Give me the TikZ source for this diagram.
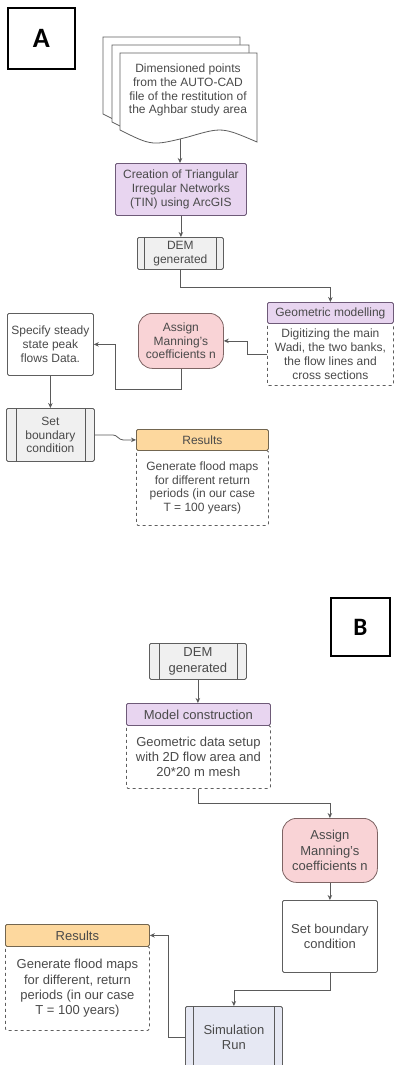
\documentclass[tikz,border=0pt]{standalone}
\usepackage{fontspec}
\setmainfont{Liberation Sans}
\newfontfamily\labfont{Carlito}
\usetikzlibrary{arrows.meta,calc}
\definecolor{bord}{HTML}{5E5E5E}
\definecolor{lin}{HTML}{5A5A5A}
\definecolor{txt}{HTML}{4A4A4A}
\definecolor{purp}{HTML}{E8D5F0}
\definecolor{purpb}{HTML}{6E5A78}
\definecolor{pink}{HTML}{F9D3D6}
\definecolor{pinkb}{HTML}{7E6464}
\definecolor{oran}{HTML}{FDD89E}
\definecolor{oranb}{HTML}{736650}
\definecolor{gfill}{HTML}{F0F0F0}
\definecolor{sfill}{HTML}{E6E8F3}
\tikzset{
  base/.style={draw=bord, line width=0.8pt, text=txt, align=center, inner sep=0pt, anchor=north west, rounded corners=1.5pt},
  fa/.style={font=\fontsize{12}{13.8}\selectfont},
  fb/.style={font=\fontsize{13}{15.3}\selectfont},
  dashbody/.style={base, dash pattern=on 3pt off 3pt},
  hdrp/.style={base, fill=purp, draw=purpb},
  hdro/.style={base, fill=oran, draw=oranb},
  terminal/.style={base, fill=pink, draw=pinkb, rounded corners=14pt},
  arr/.style={draw=lin, line width=0.8pt, -{Stealth[length=5pt,width=4.5pt]}},
  conn/.style={draw=lin, line width=0.8pt},
  labelbox/.style={draw=black, line width=1.8pt, anchor=north west, inner sep=0pt, text=black}
}
\begin{document}
\begin{tikzpicture}[x=1pt,y=-1pt]
\useasboundingbox (0,0) rectangle (396,1065);
\fill[white] (0,0) rectangle (396,1065);

% ---------- Panel A ----------
\node[labelbox, minimum width=67pt, minimum height=61pt, font=\labfont\bfseries\fontsize{28}{30}\selectfont] (labA) at (7,7) {A};

% stacked documents
\foreach \dx/\dy in {-17/-16, -8/-8, 0/0} {
  \filldraw[fill=white, draw=bord, line width=0.8pt, shift={(\dx,\dy)}]
    (120,53) -- (257,53) -- (257,142) .. controls (222,127) .. (188,137)
    .. controls (152,146) .. (120,130) -- cycle;
}
\node[fa, text=txt, align=center, inner sep=0pt] (docTxt) at (188,90)
  {Dimensioned points\\from the AUTO-CAD\\file of the restitution of\\the Aghbar study area};
\coordinate (docbot) at (180,139);

\node[hdrp, fa, minimum width=131pt, minimum height=52pt] (creation) at (115,163)
  {Creation of Triangular\\Irregular Networks\\(TIN) using ArcGIS};

\node[base, fa, fill=gfill, minimum width=86pt, minimum height=32pt] (demA) at (137,237)
  {DEM\\generated};
\draw[conn] ($(demA.north west)+(7,0)$) -- ($(demA.south west)+(7,0)$);
\draw[conn] ($(demA.north east)+(-7,0)$) -- ($(demA.south east)+(-7,0)$);

\node[dashbody, fa, minimum width=126pt, minimum height=62pt] (geomB) at (267,323)
  {Digitizing the main\\Wadi, the two banks,\\the flow lines and\\cross sections};
\node[hdrp, fa, minimum width=126pt, minimum height=21pt] (geomH) at (267,302)
  {Geometric modelling};

\node[terminal, fa, minimum width=85pt, minimum height=55pt] (assignA) at (138,313)
  {Assign\\Manning's\\coefficients n};

\node[base, fa, fill=white, minimum width=86pt, minimum height=62pt] (specify) at (7,313)
  {Specify steady\\state peak\\flows Data.};

\node[base, fa, fill=gfill, minimum width=88pt, minimum height=53pt] (setA) at (6,408)
  {Set\\boundary\\condition};
\draw[conn] ($(setA.north west)+(10,0)$) -- ($(setA.south west)+(10,0)$);
\draw[conn] ($(setA.north east)+(-9,0)$) -- ($(setA.south east)+(-9,0)$);

\node[dashbody, fa, minimum width=132pt, minimum height=75pt] (resAB) at (136,450)
  {Generate flood maps\\for different return\\periods (in our case\\T = 100 years)};
\node[hdro, fa, minimum width=132pt, minimum height=21pt] (resAH) at (136,429)
  {Results};

% connectors A
\draw[arr] (docbot) -- (docbot |- creation.north);
\draw[arr] (creation.south) -- (creation.south |- demA.north);
\draw[arr] (demA.south) -- ++(0,18) -| (geomH.north);
\draw[arr] (geomB.west) -- ++(-20,0) |- (assignA.east);
\draw[arr] (assignA.south) -- ++(0,21) -| ($(specify.east)+(22,0)$) -- (specify.east);
\draw[arr] (specify.south) -- (specify.south |- setA.north);
\draw[arr] (setA.east) -- ++(18,0) to[out=0,in=180] ($(resAH.west)+(-13,0)$) -- (resAH.west);

% ---------- Panel B ----------
\node[labelbox, minimum width=59pt, minimum height=58pt, font=\labfont\bfseries\fontsize{25}{27}\selectfont] (labB) at (330,597) {B};

\node[base, fb, fill=gfill, minimum width=97pt, minimum height=36pt] (demB) at (149,643)
  {DEM\\generated};
\draw[conn] ($(demB.north west)+(10,0)$) -- ($(demB.south west)+(10,0)$);
\draw[conn] ($(demB.north east)+(-9,0)$) -- ($(demB.south east)+(-9,0)$);

\node[dashbody, fb, minimum width=144pt, minimum height=63pt] (modelB) at (126,725)
  {Geometric data setup\\with 2D flow area and\\20*20 m mesh};
\node[hdrp, fb, minimum width=144pt, minimum height=22pt] (modelH) at (126,703)
  {Model construction};

\node[terminal, fb, minimum width=95pt, minimum height=64pt] (assignB) at (282,818)
  {Assign\\Manning's\\coefficients n};

\node[base, fb, fill=white, minimum width=95pt, minimum height=72pt] (setB) at (282,900)
  {Set boundary\\condition};

\node[base, fb, fill=sfill, minimum width=97pt, minimum height=62pt] (sim) at (185,1006)
  {Simulation\\Run};
\draw[conn] ($(sim.north west)+(8,0)$) -- ($(sim.south west)+(8,0)$);
\draw[conn] ($(sim.north east)+(-8,0)$) -- ($(sim.south east)+(-8,0)$);

\node[dashbody, fb, minimum width=144pt, minimum height=84pt] (resBB) at (5,946)
  {Generate flood maps\\for different, return\\periods (in our case\\T = 100 years)};
\node[hdro, fb, minimum width=144pt, minimum height=22pt] (resBH) at (5,924)
  {Results};

% connectors B
\draw[arr] (demB.south) -- (demB.south |- modelH.north);
\draw[arr] (modelB.south) -- ++(0,15) -| (assignB.north);
\draw[arr] (assignB.south) -- (assignB.south |- setB.north);
\draw[arr] (setB.south) -- ++(0,18) -| (sim.north);
\draw[arr] (sim.west) -- ++(-17,0) |- (resBH.east);
\end{tikzpicture}
\end{document}
